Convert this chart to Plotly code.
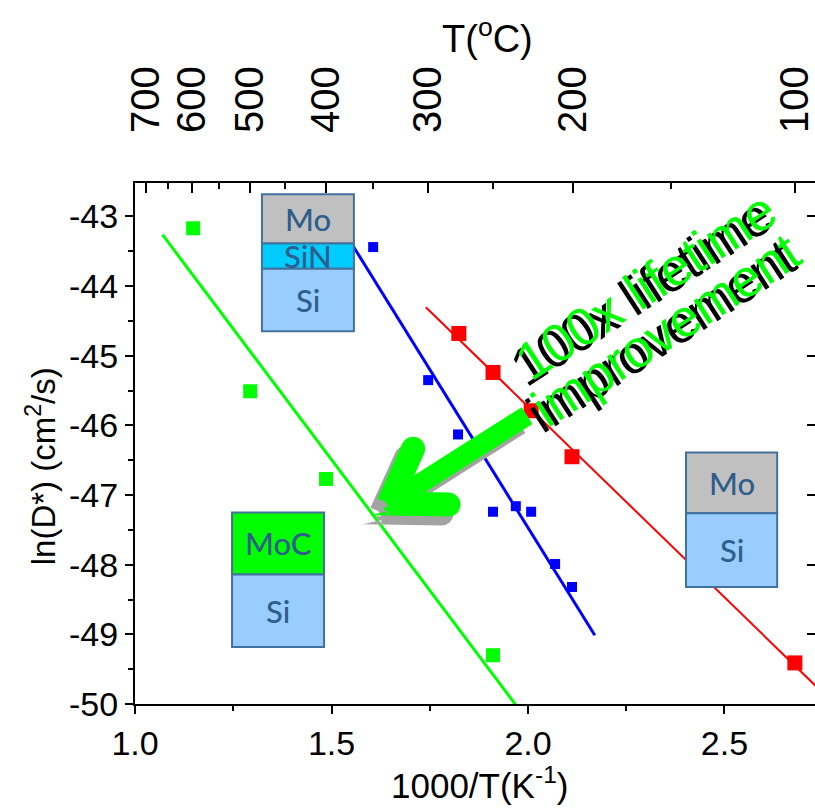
import numpy as np
import plotly.graph_objects as go

# ---- diffusion data: x = 1000/T (K^-1), y = ln(D*) (cm^2/s) ----
moc_x = [1.148, 1.293, 1.486, 1.911]
moc_y = [-43.17, -45.51, -46.77, -49.30]

sin_x = [1.606, 1.746, 1.822, 1.911, 1.969, 2.008, 2.069, 2.112]
sin_y = [-43.44, -45.35, -46.13, -47.24, -47.16, -47.24, -47.99, -48.32]

mo_x = [1.824, 1.911, 2.008, 2.112, 2.679]
mo_y = [-44.68, -45.24, -45.79, -46.45, -49.41]

# x-extent of each Arrhenius fit line
moc_fit_span = [1.07, 2.00]
sin_fit_span = [1.50, 2.17]
mo_fit_span = [1.74, 2.80]

# axis ticks
x_ticks = [1.0, 1.5, 2.0, 2.5]
y_ticks = [-43, -44, -45, -46, -47, -48, -49, -50]
y_ticklabels = ["-43", "-44", "-45", "-46", "-47", "-48", "-49", "-50"]
temp_major = [700, 600, 500, 400, 300, 200, 100]
temp_minor = [650, 550, 450, 350, 250, 150]

X_RANGE = [1.0, 2.7303]
Y_RANGE = [-50.0, -42.52]

FONT = "Liberation Sans, Arial, sans-serif"
INSET_FONT = "Lato, Open Sans, sans-serif"
GREEN = "#00FF00"
RED = "#FF0000"
BLUE = "#0000FF"


def fit_line(xs, ys, span):
    k, b = np.polyfit(xs, ys, 1)
    xx = np.array(span)
    return xx, k * xx + b


fig = go.Figure()

series = [
    (moc_x, moc_y, moc_fit_span, GREEN, 3, 14),
    (sin_x, sin_y, sin_fit_span, BLUE, 3, 10),
    (mo_x, mo_y, mo_fit_span, RED, 2, 15),
]
for xs, ys, span, col, lw, ms in series:
    lx, ly = fit_line(xs, ys, span)
    fig.add_trace(go.Scatter(x=lx, y=ly, mode="lines",
                             line=dict(color=col, width=lw),
                             showlegend=False, hoverinfo="skip"))
    fig.add_trace(go.Scatter(x=xs, y=ys, mode="markers",
                             marker=dict(symbol="square", size=ms, color=col,
                                         line=dict(width=0)),
                             showlegend=False))

# invisible traces to activate top (°C) and right axes
fig.add_trace(go.Scatter(x=[X_RANGE[0]], y=[Y_RANGE[0]], xaxis="x2", yaxis="y",
                         mode="markers", marker=dict(opacity=0),
                         showlegend=False, hoverinfo="skip"))
fig.add_trace(go.Scatter(x=[X_RANGE[0]], y=[Y_RANGE[0]], xaxis="x", yaxis="y2",
                         mode="markers", marker=dict(opacity=0),
                         showlegend=False, hoverinfo="skip"))

inv_t = lambda tc: [1000.0 / (t + 273.15) for t in tc]

axis_common = dict(showline=True, linecolor="black", linewidth=2,
                   showgrid=False, zeroline=False, tickcolor="black",
                   tickwidth=2)

fig.update_layout(
    width=815, height=811,
    margin=dict(l=135, r=0, t=183, b=107),
    paper_bgcolor="white", plot_bgcolor="white",
    xaxis=dict(range=X_RANGE, tickvals=x_ticks, tickformat=".1f",
               ticks="outside", ticklen=8,
               minor=dict(dtick=0.25, tick0=1.0, ticks="outside", ticklen=5,
                          tickwidth=2, tickcolor="black", showgrid=False),
               tickfont=dict(family=FONT, size=34, color="black"),
               **axis_common),
    xaxis2=dict(range=X_RANGE, overlaying="x", side="top",
                tickmode="array", tickvals=inv_t(temp_major),
                ticktext=[str(t) for t in temp_major],
                ticks="inside", ticklen=10, tickangle=-90,
                ticklabelstandoff=40, ticklabeloverflow="allow",
                minor=dict(tickmode="array", tickvals=inv_t(temp_minor),
                           ticks="inside", ticklen=6, tickwidth=2,
                           tickcolor="black", showgrid=False),
                tickfont=dict(family=FONT, size=40, color="black"),
                **axis_common),
    yaxis=dict(range=Y_RANGE, tickvals=y_ticks, ticktext=y_ticklabels,
               ticks="outside", ticklen=8,
               minor=dict(dtick=0.5, tick0=-50, ticks="outside", ticklen=5,
                          tickwidth=2, tickcolor="black", showgrid=False),
               tickfont=dict(family=FONT, size=34, color="black"),
               **axis_common),
    yaxis2=dict(range=Y_RANGE, overlaying="y", side="right",
                tickvals=y_ticks, showticklabels=False,
                ticks="inside", ticklen=8, **axis_common),
)

shapes = []
annotations = []

# ---- axis titles ----
title_kw = dict(xref="paper", yref="paper", showarrow=False,
                xanchor="center", yanchor="middle")
annotations += [
    dict(text="ln(D*) (cm<sup>2</sup>/s)", x=-0.137, y=0.456, textangle=-90,
         font=dict(family=FONT, size=33, color="black"), **title_kw),
    dict(text="1000/T(K<sup>-1</sup>)", x=0.507, y=-0.152,
         font=dict(family=FONT, size=35, color="black"), **title_kw),
    dict(text="T(<sup>o</sup>C)", x=0.518, y=1.283,
         font=dict(family=FONT, size=38, color="black"), **title_kw),
]

# ---- layer-stack insets ----
EDGE = "#41719C"
TXT = "#2F5D8C"
insets = [
    (1.323, 1.557, [(-42.68, -43.39, "#C0C0C0", "Mo"),
                    (-43.39, -43.75, "#00CCFF", "SiN"),
                    (-43.75, -44.65, "#99CCFF", "Si")]),
    (1.247, 1.481, [(-47.25, -48.14, "#00FF00", "MoC"),
                    (-48.14, -49.18, "#99CCFF", "Si")]),
    (2.402, 2.634, [(-46.39, -47.26, "#C0C0C0", "Mo"),
                    (-47.26, -48.32, "#99CCFF", "Si")]),
]
for x0, x1, layers in insets:
    for ytop, ybot, fill, label in layers:
        shapes.append(dict(type="rect", xref="x", yref="y",
                           x0=x0, x1=x1, y0=ybot, y1=ytop,
                           fillcolor=fill, line=dict(color=EDGE, width=2),
                           layer="above"))
        annotations.append(dict(text=label, x=(x0 + x1) / 2,
                                y=(ytop + ybot) / 2, xref="x", yref="y",
                                showarrow=False,
                                font=dict(family=INSET_FONT, size=31,
                                          color=TXT, weight=500)))


# ---- big arrow (pixel geometry anchored at its tip) ----
def arrow_polys(L=186.0, w=20.0, t=24.0, ba=72.0, bp=33.0, ang=32.4):
    th = np.radians(ang)
    ua = np.array([np.cos(th), np.sin(th)])   # toward tail
    un = np.array([np.sin(th), -np.cos(th)])  # across the shaft

    def P(a, p):
        return a * ua + p * un

    polys = []
    polys.append([P(20, -w / 2), P(L, -w / 2), P(L, w / 2), P(20, w / 2)])
    outer_pts = []
    for s in (1, -1):
        c = t
        for _ in range(20):
            ln = np.hypot(ba - c, bp)
            c = (t / 2) * ln / bp
        c0 = np.array([c, 0.0])
        e = np.array([ba, s * bp])
        d = (e - c0) / np.linalg.norm(e - c0)
        n = np.array([-d[1], d[0]])
        pts = [c0 + n * t / 2, e + n * t / 2]
        base = np.arctan2(n[1], n[0])
        for k in range(1, 16):
            a = base - np.pi * k / 16
            pts.append(e + (t / 2) * np.array([np.cos(a), np.sin(a)]))
        pts += [e - n * t / 2, c0 - n * t / 2]
        cand = [c0 + n * t / 2, c0 - n * t / 2]
        outer_pts.append(max(cand, key=lambda q: abs(q[1])))
        polys.append([P(q[0], q[1]) for q in pts])
    polys.append([P(0, 0), P(*outer_pts[0]), P(outer_pts[0][0], 0),
                  P(*outer_pts[1])])
    return polys


def poly_path(pts, dx=0.0, dy=0.0):
    return "M" + "L".join(f"{p[0] + dx:.2f},{p[1] + dy:.2f}" for p in pts) + "Z"


ARROW_TIP = (1.598, -47.29)
for col, (dx, dy) in (("#A3A3A3", (-7, -9)), (GREEN, (0, 0))):
    for poly in arrow_polys():
        shapes.append(dict(type="path", xref="x", yref="y",
                           xsizemode="pixel", ysizemode="pixel",
                           xanchor=ARROW_TIP[0], yanchor=ARROW_TIP[1],
                           path=poly_path(poly, dx, dy),
                           fillcolor=col, line=dict(width=0), layer="above"))

# ---- shadowed caption ----
for txt, cx, cy in (("100x lifetime", 2.300, -43.99),
                    ("improvement", 2.352, -44.63)):
    for col, xs, ys in (("black", -5, -6), (GREEN, 0, 0)):
        annotations.append(dict(text=txt, x=cx, y=cy, xref="x", yref="y",
                                xshift=xs, yshift=ys, textangle=-33,
                                showarrow=False,
                                font=dict(family=FONT, size=53, color=col)))

fig.update_layout(shapes=shapes, annotations=annotations)
fig.write_html("out.html")
